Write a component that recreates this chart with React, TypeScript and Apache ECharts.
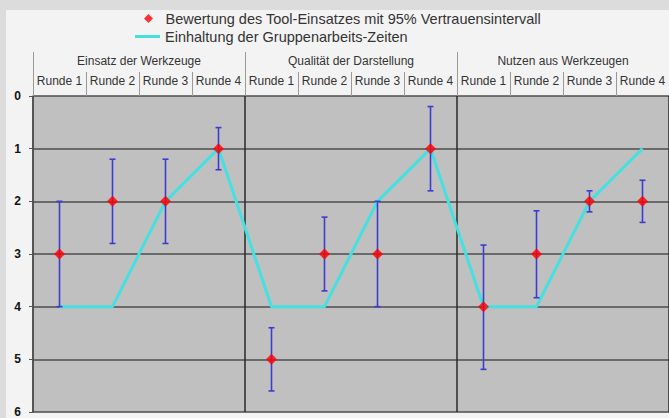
import React, { useEffect, useRef } from "react";
import * as echarts from "echarts";

const categories = [
  "Runde 1", "Runde 2", "Runde 3", "Runde 4",
  "Runde 1", "Runde 2", "Runde 3", "Runde 4",
  "Runde 1", "Runde 2", "Runde 3", "Runde 4",
];
const groups = ["Einsatz der Werkzeuge", "Qualität der Darstellung", "Nutzen aus Werkzeugen"];
const yTicks = [0, 1, 2, 3, 4, 5, 6];
const ratingValues = [3, 2, 2, 1, 5, 3, 3, 1, 4, 3, 2, 2];
const ciLow = [2, 1.2, 1.2, 0.6, 4.4, 2.3, 2, 0.2, 2.83, 2.18, 1.8, 1.6];
const ciHigh = [4, 2.8, 2.8, 1.4, 5.6, 3.7, 4, 1.8, 5.19, 3.83, 2.2, 2.4];
const timeValues = [4, 4, 2, 1, 4, 4, 2, 1, 4, 4, 2, 1];

const ratingName = "Bewertung des Tool-Einsatzes mit 95% Vertrauensintervall";
const timeName = "Einhaltung der Gruppenarbeits-Zeiten";

export default function App() {
  const ref = useRef<HTMLDivElement>(null);
  useEffect(() => {
    const chart = echarts.init(ref.current!, null, { renderer: "svg" });
    const font = "Arial, 'Liberation Sans', sans-serif";
    chart.setOption({
      animation: false,
      backgroundColor: "#dcdcdc",
      textStyle: { fontFamily: font },
      graphic: [
        {
          type: "rect",
          z: -10,
          silent: true,
          shape: { x: 6, y: 10, width: 700, height: 420 },
          style: { fill: "#f3f3f3" },
        },
      ],
      legend: [
        {
          data: [{ name: ratingName, icon: "path://M5,0 L10,5 L5,10 L0,5 Z" }],
          left: 139,
          top: 6,
          itemWidth: 24,
          itemHeight: 9,
          symbolKeepAspect: true,
          textStyle: { fontSize: 14.5, color: "#333", fontFamily: font },
        },
        {
          data: [{ name: timeName, icon: "rect" }],
          left: 130,
          top: 24,
          itemWidth: 25,
          itemHeight: 3,
          textStyle: { fontSize: 14.5, color: "#333", fontFamily: font },
        },
      ],
      grid: {
        left: 33,
        top: 96,
        right: -5,
        bottom: 2,
        show: true,
        backgroundColor: "#c0c0c0",
        borderWidth: 0,
      },
      xAxis: [
        {
          type: "category",
          data: categories,
          position: "top",
          axisLine: { show: false },
          axisTick: { show: true, interval: 0, length: 24, lineStyle: { color: "#999" } },
          axisLabel: { interval: 0, fontSize: 12, color: "#333", margin: 9, fontFamily: font },
          splitLine: { show: false },
        },
        {
          type: "category",
          data: groups,
          position: "top",
          axisLine: { show: false },
          axisTick: { show: true, interval: 0, length: 44, lineStyle: { color: "#999" } },
          axisLabel: { interval: 0, fontSize: 12, color: "#333", margin: 29, fontFamily: font },
          splitLine: { show: true, interval: 0, lineStyle: { color: "#2a2a2a", width: 1.5 } },
        },
      ],
      yAxis: {
        type: "value",
        inverse: true,
        min: 0,
        max: 6,
        interval: 1,
        axisLine: { show: true, lineStyle: { color: "#555", width: 1.5 } },
        axisTick: { show: true, length: 4, lineStyle: { color: "#555" } },
        axisLabel: {
          fontSize: 12,
          fontWeight: "bold",
          color: "#111",
          margin: 12,
          fontFamily: font,
          formatter: (v: number) => (yTicks.includes(v) ? String(v) : ""),
        },
        splitLine: { show: true, lineStyle: { color: "#4e4e4e", width: 1.5 } },
      },
      series: [
        {
          name: timeName,
          type: "line",
          xAxisIndex: 0,
          data: timeValues,
          showSymbol: false,
          symbol: "none",
          lineStyle: { color: "#45e0e0", width: 3 },
          itemStyle: { color: "#45e0e0" },
          z: 2,
        },
        {
          name: "ci",
          type: "custom",
          xAxisIndex: 0,
          data: categories.map((_, i) => [i, ciLow[i], ciHigh[i]]),
          encode: { x: 0, y: [1, 2] },
          renderItem: (params: any, api: any) => {
            const top = api.coord([api.value(0), api.value(1)]);
            const bot = api.coord([api.value(0), api.value(2)]);
            const c = 3;
            const style = { stroke: "#3c3cd0", lineWidth: 1.6 };
            return {
              type: "group",
              children: [
                { type: "line", shape: { x1: top[0], y1: top[1], x2: bot[0], y2: bot[1] }, style },
                { type: "line", shape: { x1: top[0] - c, y1: top[1], x2: top[0] + c, y2: top[1] }, style },
                { type: "line", shape: { x1: bot[0] - c, y1: bot[1], x2: bot[0] + c, y2: bot[1] }, style },
              ],
            };
          },
          z: 3,
        },
        {
          name: ratingName,
          type: "scatter",
          xAxisIndex: 0,
          data: ratingValues,
          symbol: "diamond",
          symbolSize: 11,
          itemStyle: { color: "#ff0000" },
          z: 4,
        },
      ],
    });
    return () => chart.dispose();
  }, []);
  return (
    <div
      ref={ref}
      style={{ position: "fixed", left: 0, top: 0, width: 669, height: 418 }}
    />
  );
}
